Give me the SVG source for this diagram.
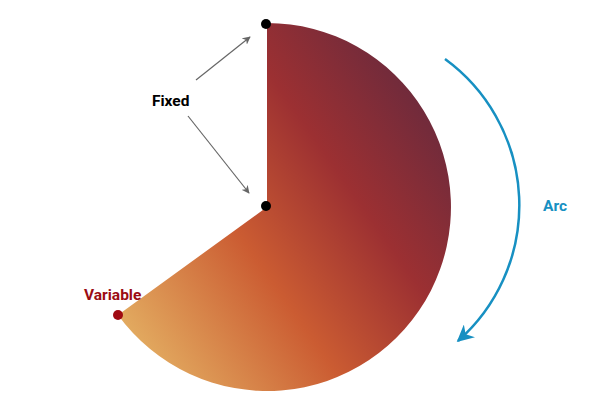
<svg xmlns="http://www.w3.org/2000/svg" width="595" height="403" viewBox="0 0 595 403">
<style>
.lbl{font-family:"Roboto","Liberation Sans",Arial,sans-serif;font-weight:bold;font-size:15.5px}
.ptr{stroke:#666;stroke-width:1.2;fill:none}
.dot{fill:#000}
</style>
<defs>
<linearGradient id="g" gradientUnits="userSpaceOnUse" x1="125" y1="345" x2="445" y2="120">
<stop offset="0" stop-color="#e4b063"/>
<stop offset="0.4" stop-color="#cb5c32"/>
<stop offset="0.7" stop-color="#9c3032"/>
<stop offset="1" stop-color="#6c2a3c"/>
</linearGradient>
<marker id="ag" viewBox="0 0 10 10" refX="9" refY="5" markerWidth="8" markerHeight="8" orient="auto" markerUnits="userSpaceOnUse">
<path d="M0,0 L10,5 L0,10 L3,5 Z" fill="#666"/>
</marker>
<marker id="ab" viewBox="0 0 10 10" refX="9" refY="5" markerWidth="17" markerHeight="17" orient="auto" markerUnits="userSpaceOnUse">
<path d="M0,0 L10,5 L0,10 L3,5 Z" fill="#1790c2"/>
</marker>
</defs>
<g id="sector">
<path d="M267,207 L267,23 A184,184 0 1 1 118,315 Z" fill="url(#g)"/>
</g>
<g id="connectors">
<path class="ptr" d="M196,80 L250,37" marker-end="url(#ag)"/>
<path class="ptr" d="M188,116 L249,193" marker-end="url(#ag)"/>
<path d="M445,59 A181,181 0 0 1 458,341" stroke="#1790c2" stroke-width="2.5" fill="none" marker-end="url(#ab)"/>
</g>
<g id="fixed-top"><circle class="dot" cx="266" cy="24" r="5"/></g>
<g id="fixed-center"><circle class="dot" cx="266" cy="206" r="5"/></g>
<g id="variable"><circle cx="118" cy="315" r="5" fill="#a00a12"/>
<text class="lbl" x="84" y="300" fill="#9b0c14">Variable</text></g>
<g id="fixed-label"><text class="lbl" x="152" y="106" fill="#000">Fixed</text></g>
<g id="arc-label"><text class="lbl" x="543" y="211" fill="#1790c2">Arc</text></g>
</svg>
